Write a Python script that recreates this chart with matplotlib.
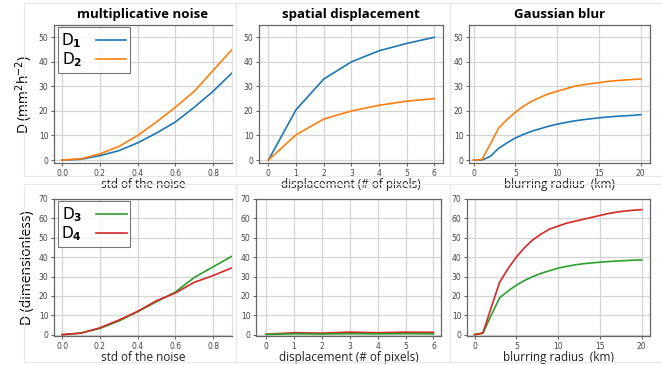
import matplotlib
matplotlib.use("Agg")
import matplotlib.pyplot as plt
from matplotlib.patches import Rectangle

# ---- data ----
noise_x = [0, 0.1, 0.2, 0.3, 0.4, 0.5, 0.6, 0.7, 0.8, 0.9]
noise_d1 = [0, 0.3, 1.8, 3.8, 7.0, 11.0, 15.5, 21.5, 28.0, 35.5]
noise_d2 = [0, 0.5, 2.5, 5.5, 10.0, 15.5, 21.5, 28.0, 36.5, 45.0]
noise_d3 = [0, 0.8, 3.2, 7.0, 11.8, 17.0, 22.0, 29.5, 35.0, 40.5]
noise_d4 = [0, 0.8, 3.5, 7.5, 12.0, 17.5, 21.5, 27.0, 30.5, 34.5]

disp_x = [0, 1, 2, 3, 4, 5, 6]
disp_d1 = [0, 20.5, 33.0, 40.0, 44.5, 47.5, 50.0]
disp_d2 = [0, 10.3, 16.7, 20.0, 22.3, 24.0, 25.0]
disp_d3 = [0.1, 0.4, 0.3, 0.5, 0.4, 0.5, 0.4]
disp_d4 = [0.2, 1.0, 0.8, 1.3, 1.0, 1.3, 1.2]

blur_x = list(range(21))
blur_d1 = [0, 0, 1.5, 4.8, 7.0, 9.0, 10.5, 11.8, 12.8, 13.8, 14.6,
           15.3, 15.9, 16.4, 16.8, 17.2, 17.5, 17.8, 18.0, 18.2, 18.5]
blur_d2 = [0, 0.2, 6.5, 13.0, 16.5, 19.5, 22.0, 24.0, 25.6, 27.0, 28.0,
           29.0, 30.0, 30.6, 31.1, 31.5, 32.0, 32.3, 32.6, 32.8, 33.0]
blur_d3 = [0, 0.8, 10.0, 19.0, 22.5, 25.5, 28.0, 30.0, 31.7, 33.0, 34.3,
           35.2, 36.0, 36.6, 37.0, 37.4, 37.7, 38.0, 38.2, 38.4, 38.6]
blur_d4 = [0, 0.8, 14.0, 27.0, 34.0, 40.0, 45.0, 49.0, 52.0, 54.5, 56.0,
           57.5, 58.5, 59.5, 60.5, 61.5, 62.5, 63.2, 63.8, 64.2, 64.5]

titles = ["multiplicative noise", "spatial displacement", "Gaussian blur"]
xlabels = ["std of the noise", "displacement (# of pixels)", "blurring radius  (km)"]

W, H = 662, 365
fig = plt.figure(figsize=(W / 100, H / 100), dpi=100)


def px_axes(x0, x1, ytop, ybot):
    return fig.add_axes([x0 / W, 1 - ybot / H, (x1 - x0) / W, (ybot - ytop) / H])


# faint borders of the pasted panels
for (x0, y0, x1, y1) in [(24, 3, 236, 176), (236, 3, 450, 176), (450, 3, 662, 176),
                         (24, 184, 236, 362), (236, 184, 450, 362), (450, 184, 662, 362)]:
    fig.patches.append(Rectangle((x0 / W, 1 - y1 / H), (x1 - x0) / W, (y1 - y0) / H,
                                 transform=fig.transFigure, fill=False,
                                 ec="#e8e8e8", lw=0.8))

top = [px_axes(54, 232, 25, 163), px_axes(259, 443, 25, 163), px_axes(469, 650, 25, 163)]
bot = [px_axes(54, 232, 199, 336), px_axes(256, 441, 199, 336), px_axes(467, 650, 199, 336)]

blue, orange, green, red = "#1f77b4", "#ff7f0e", "#2ca02c", "#d62728"

top[0].plot(noise_x, noise_d1, color=blue, lw=1.2, label="D$_\\mathbf{1}$")
top[0].plot(noise_x, noise_d2, color=orange, lw=1.2, label="D$_\\mathbf{2}$")
top[1].plot(disp_x, disp_d1, color=blue, lw=1.2)
top[1].plot(disp_x, disp_d2, color=orange, lw=1.2)
top[2].plot(blur_x, blur_d1, color=blue, lw=1.2)
top[2].plot(blur_x, blur_d2, color=orange, lw=1.2)

bot[0].plot(noise_x, noise_d3, color=green, lw=1.2, label="D$_\\mathbf{3}$")
bot[0].plot(noise_x, noise_d4, color=red, lw=1.2, label="D$_\\mathbf{4}$")
bot[1].plot(disp_x, disp_d4, color=red, lw=1.2)
bot[1].plot(disp_x, disp_d3, color=green, lw=1.2)
bot[2].plot(blur_x, blur_d3, color=green, lw=1.2)
bot[2].plot(blur_x, blur_d4, color=red, lw=1.2)

xlims = [(-0.043, 0.9), (-0.34, 6.31), (-0.55, 21.1)]
xlims_b = [(-0.043, 0.9), (-0.36, 6.27), (-0.9, 21.0)]
xticks = [[0, 0.2, 0.4, 0.6, 0.8], [0, 1, 2, 3, 4, 5, 6], [0, 5, 10, 15, 20]]

for row, lims, ylim, yt in [(top, xlims, (-1.2, 55), range(0, 51, 10)),
                            (bot, xlims_b, (-0.7, 70), range(0, 71, 10))]:
    for i, ax in enumerate(row):
        ax.set_xlim(*lims[i])
        ax.set_ylim(*ylim)
        ax.set_xticks(xticks[i])
        ax.set_yticks(list(yt))
        ax.grid(True, color="#d4d4d4", lw=0.9)
        ax.set_axisbelow(True)
        ax.tick_params(labelsize=5.5, colors="#444444", length=2.5, width=0.6, pad=1.5)
        for s in ax.spines.values():
            s.set_color("#666666")
            s.set_linewidth(0.9)
        ax.set_xlabel(xlabels[i], fontsize=8.5, family="Open Sans", color="#222222", labelpad=0)
    row[0].spines["right"].set_color("#e0e0e0")

for i, ax in enumerate(top):
    ax.set_title(titles[i], fontsize=9.5, fontweight="bold", family="Open Sans", pad=5)

top[0].set_ylabel("D (mm$^2$h$^{-2}$)", fontsize=10, family="Open Sans", labelpad=3)
bot[0].set_ylabel("D (dimensionless)", fontsize=10, family="Open Sans", labelpad=3)

for ax in (top[0], bot[0]):
    leg = ax.legend(loc="upper left", fontsize=11, handlelength=2.0, handletextpad=0.9,
                    borderpad=0.25, labelspacing=0.05, fancybox=False, markerfirst=False,
                    bbox_to_anchor=(0.02, 0.985), borderaxespad=0)
    leg.get_frame().set_edgecolor("#555555")
    leg.get_frame().set_linewidth(0.8)

fig.savefig("out.png", dpi=100)
